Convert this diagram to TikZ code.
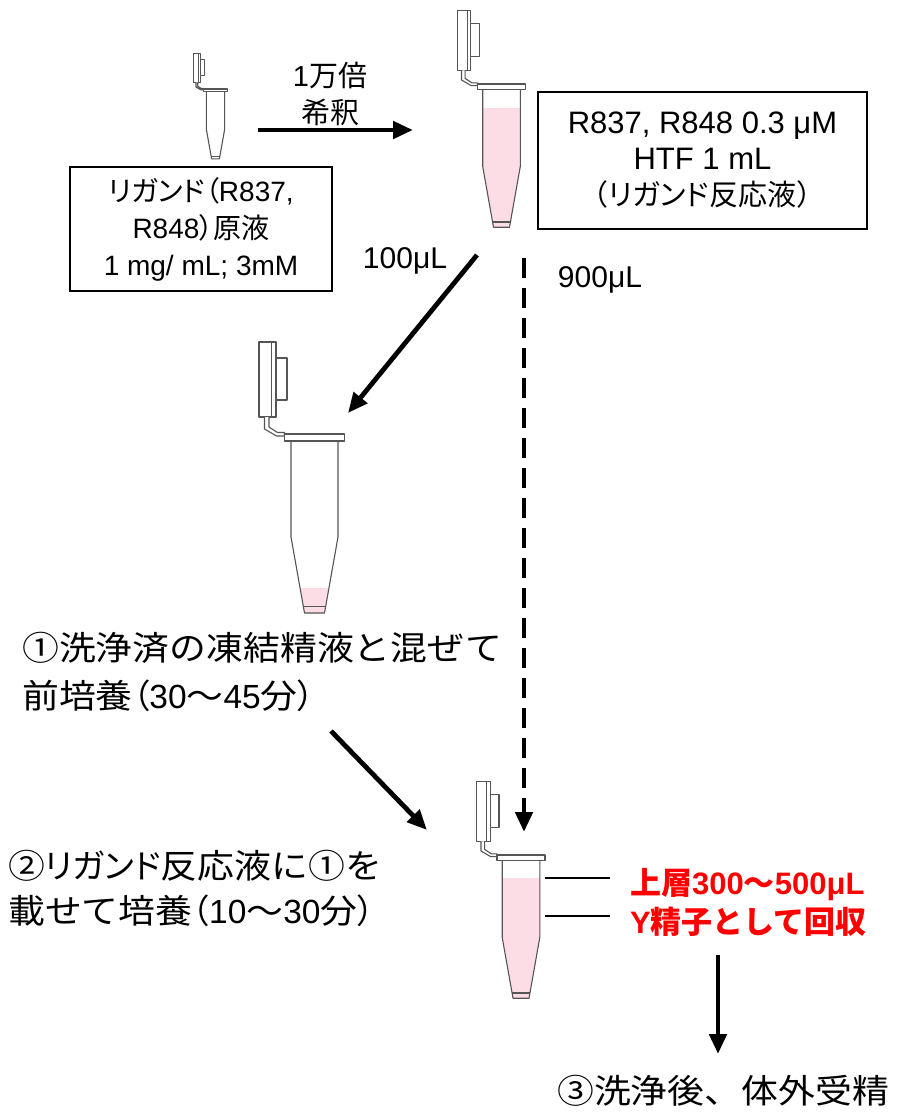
\documentclass[tikz,border=0pt]{standalone}
\usepackage{fontspec}
\setmainfont{Liberation Sans}
\newfontfamily\jp[RawFeature=+palt]{Noto Sans CJK JP}
\newfontfamily\jpf{Noto Sans CJK JP}
\newfontfamily\jpw[FakeStretch=1.1]{Noto Sans CJK JP}
\usetikzlibrary{arrows.meta}
\definecolor{liquid}{RGB}{252,221,230}
\definecolor{tubegray}{RGB}{85,85,85}
\definecolor{alert}{RGB}{255,0,0}
\tikzset{
  tubeline/.style={draw=tubegray,line width=1.1pt,line join=round},
  infobox/.style={draw=black,line width=1.4pt,inner sep=0pt,align=center},
  flow/.style={line width=4.8pt,-{Triangle[length=20pt,width=17pt]}},
  flowdash/.style={flow,dash pattern=on 20pt off 10pt},
  leader/.style={line width=2.4pt},
  txt/.style={inner sep=0pt,anchor=base west},
  % microcentrifuge tube; origin = top centre of the lid, #1 = liquid level (0 = empty)
  pics/tube/.style={code={
    \draw[tubeline,fill=white] (-55.5,-92) rectangle (-43,-17);
    \draw[tubeline,fill=white] (-43,-92) rectangle (-38.5,-17);
    \draw[tubeline,fill=white] (-38.5,-76) rectangle (-27.5,-34);
    \draw[tubeline,fill=white] (-50,-17) -- (-50,-5) -- (-38,2) -- (-30,2)
       -- (-30,-1.5) -- (-37,-1.5) -- (-45.5,-7) -- (-45.5,-17);
    \ifnum#1>0
      \begin{scope}
        \clip (-23.5,7) -- (-23.5,103) -- (-10,179) -- (10,179) -- (23.5,103) -- (23.5,7) -- cycle;
        \fill[liquid] (-30,#1) rectangle (30,180);
      \end{scope}
    \fi
    \draw[tubeline] (-23.5,7) -- (-23.5,103) -- (-10,179) -- (10,179) -- (23.5,103) -- (23.5,7);
    \draw[tubeline] (-10.8,172.5) -- (10.8,172.5);
    \draw[tubeline,fill=white] (-30,0) rectangle (30,7);
  }},
}
\begin{document}
\begin{tikzpicture}[x=1pt,y=-1pt]
\useasboundingbox[fill=white] (0,0) rectangle (900,1116);

% tubes
\pic[scale=0.39] (stock) at (215.5,89) {tube=0};
\pic[scale=0.8] (react) at (501.5,84) {tube=30};
\pic (pre) at (314.5,434) {tube=154};
\pic[scale=0.8] (final) at (521,855) {tube=29};

% boxes
\node[infobox,minimum width=262pt,minimum height=124pt,
      font=\fontsize{28}{37}\selectfont] (stockbox) at (201,229)
  {{\jp リガンド（}R837,\\R848{\jp ）原液}\\1 mg/ mL; 3mM};
\node[infobox,minimum width=329pt,minimum height=137pt,
      font=\fontsize{31}{36}\selectfont] (reactbox) at (702.5,160.5)
  {R837, R848 0.3 μM\\HTF 1 mL\\{\jpf\fontsize{29}{36}\selectfont （\jp リガンド反応液\jpf ）}};

% dilution step
\node[inner sep=0pt,anchor=base,font=\fontsize{29}{37}\selectfont] (dil1) at (330,86) {1{\jpf 万倍}};
\node[inner sep=0pt,anchor=base,font=\fontsize{29}{37}\selectfont] (dil2) at (330,123) {\jpf 希釈};
\coordinate (d0) at (258,130);
\coordinate (d1) at (413,130);
\draw[flow] (d0) -- (d1);

% split of the reaction liquid
\node[inner sep=0pt,anchor=base,font=\fontsize{30}{36}\selectfont] (v100) at (405,268) {100μL};
\node[inner sep=0pt,anchor=base,font=\fontsize{30}{36}\selectfont] (v900) at (600,287) {900μL};
\coordinate (a0) at (477,255);
\coordinate (a1) at (348,413);
\draw[flow] (a0) -- (a1);
\coordinate (b0) at (524,258);
\coordinate (b1) at (524,832);
\draw[flowdash] (b0) -- (b1);

% step 1
\node[txt,font=\fontsize{33.5}{40}\selectfont] (s1a) at (22,660)
  {\jpw ①洗浄済の凍結精液と混ぜて};
\node[txt,font=\fontsize{33.5}{40}\selectfont] (s1b) at (22,708)
  {{\jpw 前培養\jp （}30{\jpw 〜}45{\jpw 分\jp ）}};
\coordinate (c0) at (331,731);
\coordinate (c1) at (427,830);
\draw[flow] (c0) -- (c1);

% step 2
\node[txt,font=\fontsize{33.5}{40}\selectfont] (s2a) at (8,878)
  {{\jpw ②}{\jp リガンド}{\jpw 反応液に①を}};
\node[txt,font=\fontsize{33.5}{40}\selectfont] (s2b) at (8,923)
  {{\jpw 載せて培養\jp （}10{\jpw 〜}30{\jpw 分\jp ）}};

% upper layer collection
\coordinate (l1a) at (545,878);
\coordinate (l1b) at (610,878);
\coordinate (l2a) at (545,916);
\coordinate (l2b) at (610,916);
\draw[leader] (l1a) -- (l1b);
\draw[leader] (l2a) -- (l2b);
\node[txt,text=alert,font=\bfseries\fontsize{31}{40}\selectfont] (up1) at (630,894)
  {{\jpf 上層}300{\jpf 〜}500μL};
\node[txt,text=alert,font=\bfseries\fontsize{31}{40}\selectfont] (up2) at (630,933)
  {Y{\jpf 精子として回収}};

% step 3
\coordinate (e0) at (718,955);
\coordinate (e1) at (718,1054);
\draw[flow] (e0) -- (e1);
\node[txt,font=\fontsize{33.5}{40}\selectfont] (s3) at (557,1103)
  {\jpw ③洗浄後、体外受精};
\end{tikzpicture}
\end{document}
